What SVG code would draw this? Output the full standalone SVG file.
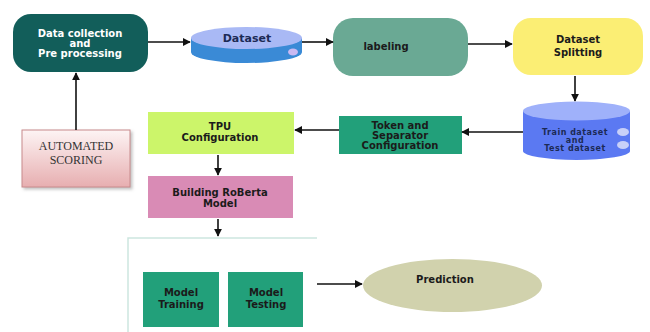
<svg xmlns="http://www.w3.org/2000/svg" width="650" height="332" viewBox="0 0 650 332">
  <defs>
    <marker id="arrow" viewBox="0 0 10 10" refX="9" refY="5" markerWidth="8" markerHeight="8" orient="auto" markerUnits="userSpaceOnUse">
      <path d="M0,0 L10,5 L0,10 z" fill="#111"/>
    </marker>
    <linearGradient id="pinkGrad" x1="0" y1="0" x2="0" y2="1">
      <stop offset="0" stop-color="#fdf4f4"/>
      <stop offset="1" stop-color="#e7aeb0"/>
    </linearGradient>
    <filter id="softShadow" x="-10%" y="-10%" width="130%" height="130%">
      <feDropShadow dx="2" dy="2" stdDeviation="1.5" flood-color="#999" flood-opacity="0.6"/>
    </filter>
  </defs>
  <style>
    .lbl { font-family: "DejaVu Sans", "Liberation Sans", sans-serif; font-weight: bold; text-anchor: middle; }
    .white { fill: #ffffff; font-size: 10px; }
    .dark { fill: #1b1b1b; font-size: 10px; }
    .navy { fill: #1c2a55; }
    .small { font-size: 8px; letter-spacing: 0.5px; }
    .serif { font-family: "Liberation Serif", "DejaVu Serif", serif; font-size: 12px; fill: #333; text-anchor: middle; }
    .conn { stroke: #111; stroke-width: 1.6; fill: none; marker-end: url(#arrow); }
  </style>

  <rect width="650" height="332" fill="#ffffff"/>

  <!-- frame around training and testing -->
  <polyline points="317,238 128,238 128,332" fill="none" stroke="#cde6df" stroke-width="1.5"/>

  <g id="data-collection">
    <rect x="13" y="14" width="135" height="58" rx="18" fill="#125e5a"/>
    <text class="lbl white" x="80" y="37">Data collection</text>
    <text class="lbl white" x="80" y="47">and</text>
    <text class="lbl white" x="80" y="57">Pre processing</text>
  </g>

  <g id="dataset">
    <path d="M191,38 L191,52 A55.5,11 0 0 0 302,52 L302,38 z" fill="#3a8ad6"/>
    <ellipse cx="246.5" cy="38" rx="55.5" ry="11" fill="#a9b9f5"/>
    <ellipse cx="293" cy="52" rx="5" ry="3.5" fill="#c9b9f2"/>
    <text class="lbl navy" x="247" y="42" font-size="11">Dataset</text>
  </g>

  <g id="labeling">
    <rect x="333" y="18" width="135" height="58" rx="20" fill="#6aa994"/>
    <text class="lbl dark" x="386" y="50">labeling</text>
  </g>

  <g id="dataset-splitting">
    <rect x="513" y="18" width="130" height="57" rx="18" fill="#fbee74"/>
    <text class="lbl dark" x="578" y="43">Dataset</text>
    <text class="lbl dark" x="578" y="56">Splitting</text>
  </g>

  <g id="train-test">
    <path d="M523,111 L523,151 A53.5,9 0 0 0 630,151 L630,111 z" fill="#5b79f2"/>
    <ellipse cx="576.5" cy="111" rx="53.5" ry="9.5" fill="#9fb1fa"/>
    <ellipse cx="623" cy="132" rx="6" ry="4" fill="#c8d0f8"/>
    <ellipse cx="623" cy="145" rx="6" ry="4" fill="#c8d0f8"/>
    <text class="lbl navy small" x="575" y="134.5">Train dataset</text>
    <text class="lbl navy small" x="575" y="142.5">and</text>
    <text class="lbl navy small" x="575" y="150.5">Test dataset</text>
  </g>

  <g id="token-config">
    <rect x="339" y="116" width="123" height="38" fill="#22a07a"/>
    <text class="lbl dark" x="400" y="129" font-size="9.5">Token and</text>
    <text class="lbl dark" x="400" y="139" font-size="9.5">Separator</text>
    <text class="lbl dark" x="400" y="149" font-size="9.5">Configuration</text>
  </g>

  <g id="tpu-config">
    <rect x="148" y="112" width="146" height="42" fill="#ccf56a"/>
    <text class="lbl dark" x="220" y="130">TPU</text>
    <text class="lbl dark" x="220" y="141" font-size="11">Configuration</text>
  </g>

  <g id="building-roberta">
    <rect x="148" y="176" width="145" height="42" fill="#d98bb5"/>
    <text class="lbl dark" x="220" y="195.5">Building RoBerta</text>
    <text class="lbl dark" x="220" y="207">Model</text>
  </g>

  <g id="model-training">
    <rect x="143" y="272" width="76" height="55" fill="#22a07a"/>
    <text class="lbl dark" x="181" y="295.5">Model</text>
    <text class="lbl dark" x="181" y="307.5">Training</text>
  </g>

  <g id="model-testing">
    <rect x="228" y="272" width="75" height="55" fill="#22a07a"/>
    <text class="lbl dark" x="266" y="295.5">Model</text>
    <text class="lbl dark" x="266" y="307.5">Testing</text>
  </g>

  <g id="prediction">
    <ellipse cx="452.5" cy="285.5" rx="89.5" ry="26.5" fill="#d1d2ad"/>
    <text class="lbl dark" x="445" y="282.5">Prediction</text>
  </g>

  <g id="automated-scoring">
    <rect x="22" y="130" width="108" height="57" fill="url(#pinkGrad)" stroke="#c88a8c" stroke-width="1" filter="url(#softShadow)"/>
    <text class="serif" x="76" y="149.5">AUTOMATED</text>
    <text class="serif" x="76" y="163.5">SCORING</text>
  </g>

  <g id="connectors">
    <line class="conn" x1="148" y1="42" x2="190" y2="42"/>
    <line class="conn" x1="302" y1="42" x2="333" y2="42"/>
    <line class="conn" x1="468" y1="44" x2="512" y2="44"/>
    <line class="conn" x1="575" y1="76" x2="575" y2="101"/>
    <line class="conn" x1="523" y1="132" x2="462" y2="132"/>
    <line class="conn" x1="339" y1="130" x2="295" y2="130"/>
    <line class="conn" x1="218" y1="155" x2="218" y2="175"/>
    <line class="conn" x1="218" y1="219" x2="218" y2="236"/>
    <line class="conn" x1="317" y1="284" x2="362" y2="284"/>
    <line class="conn" x1="76" y1="130" x2="76" y2="73"/>
  </g>
</svg>
